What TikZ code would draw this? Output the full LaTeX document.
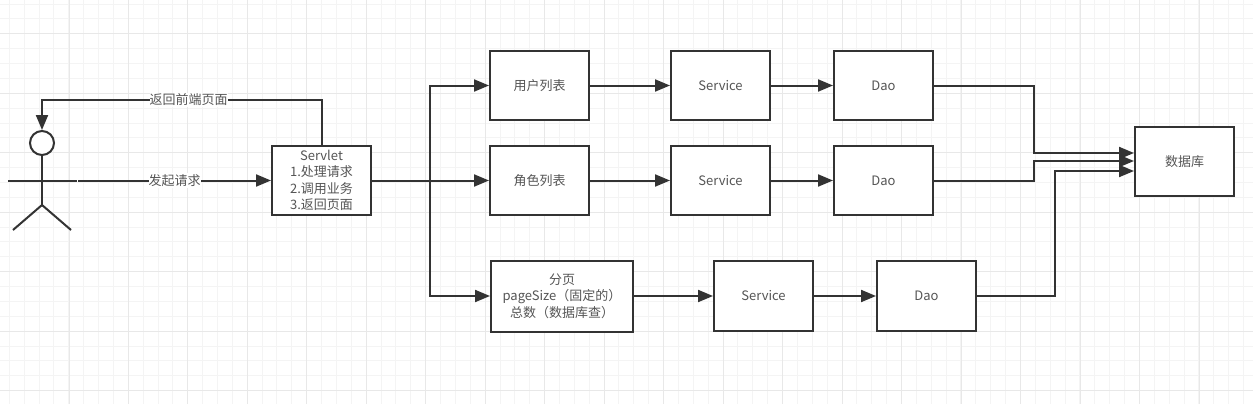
\documentclass[tikz,border=0pt]{standalone}
\usepackage{fontspec}
\setmainfont{Noto Sans CJK SC}
\usetikzlibrary{arrows.meta}
\definecolor{linegray}{HTML}{333333}
\definecolor{textgray}{HTML}{555555}
\definecolor{gridminor}{HTML}{F4F4F4}
\definecolor{gridmajor}{HTML}{E8E8E8}
\begin{document}
\begin{tikzpicture}[x=1pt, y=-1pt, >={Triangle[length=15pt,width=12pt]},
    line width=2pt, color=linegray]

    \tikzset{%
    every box/.style={
        rectangle,
        draw=linegray,
        fill=white,
        text=textgray,
        align=center,
        font=\fontsize{13}{16.3}\selectfont,
        inner sep=0pt,
        minimum width=99pt,
        minimum height=69pt
        },
    edge label/.style={
        fill=white,
        text=textgray,
        inner xsep=0pt,
        inner ysep=1pt,
        font=\fontsize{13}{16}\selectfont
        },
    }

    \useasboundingbox (0,0) rectangle (1258,404);
    \fill [white] (0,0) rectangle (1258,404);

    % Grid lines
    \foreach \k in {0,...,83}
    \draw [gridminor, line width=1pt] (9.3+\k*14.87,0) -- (9.3+\k*14.87,404);
    \foreach \k in {0,...,26}
    \draw [gridminor, line width=1pt] (0,4.06+\k*14.87) -- (1252.7,4.06+\k*14.87);
    \foreach \k in {0,...,20}
    \draw [gridmajor, line width=1pt] (69+\k*59.49,0) -- (69+\k*59.49,404);
    \foreach \k in {0,...,6}
    \draw [gridmajor, line width=1pt] (0,33.8+\k*59.49) -- (1252.7,33.8+\k*59.49);

    % Boxes of the first two rows
    \node [every box] (servlet) at (321.5,180.5) {Servlet\\1.处理请求\\2.调用业务\\3.返回页面};
    \foreach \n/\l/\y in {user/用户列表/85.5,role/角色列表/180.5} {
    \node [every box] (\n-list) at (539.5,\y) {\l};
    \node [every box] (\n-service) at (720.5,\y) {Service};
    \node [every box] (\n-dao) at (883.5,\y) {Dao};
    }

    % Third row
    \node [every box, minimum width=142pt, minimum height=71pt] (page-list) at (562,296) {分页\\pageSize（固定的）\\总数（数据库查）};
    \node [every box, minimum height=70pt] (page-service) at (763.5,296) {Service};
    \node [every box, minimum height=70pt] (page-dao) at (926.5,296) {Dao};

    \node [every box, minimum height=69.5pt] (database) at (1184.5,161.5) {数据库};

    % Stick figure
    \node [circle, draw=linegray, fill=white, inner sep=0pt, minimum size=24pt] (head) at (42,143) {};
    \coordinate (waist) at (42,205);
    \coordinate (arm-left) at (8,180.5);
    \coordinate (arm-right) at (76.5,180.5);
    \coordinate (hand) at (78,180.5);
    \coordinate (foot-left) at (13,230);
    \coordinate (foot-right) at (71,230);
    \draw (head) -- (waist);
    \draw (arm-left) -- (arm-right);
    \draw (foot-left) -- (waist) -- (foot-right);

    % Request and response
    \draw [->] (hand) -- node [edge label] {发起请求} (servlet);
    \draw [->] (servlet.north) -- ++(0,-45) -| node [edge label, pos=0.2375] {返回前端页面} (head.north);

    % Branches out of the servlet
    \coordinate (fork) at (430,180.5);
    \draw [->] (servlet) -- (fork) |- (user-list);
    \draw [->] (servlet) -- (role-list);
    \draw [->] (fork) |- (page-list);

    % Rows
    \foreach \n in {user,role,page} {
    \draw [->] (\n-list) -- (\n-service);
    \draw [->] (\n-service) -- (\n-dao);
    }

    % Into the database
    \draw [->] (user-dao) -| (1034,153) -- (database.west |- 0,153);
    \draw [->] (role-dao) -| (1034,161) -- (database.west |- 0,161);
    \draw [->] (page-dao) -| (1055,171) -- (database.west |- 0,171);

\end{tikzpicture}
\end{document}
